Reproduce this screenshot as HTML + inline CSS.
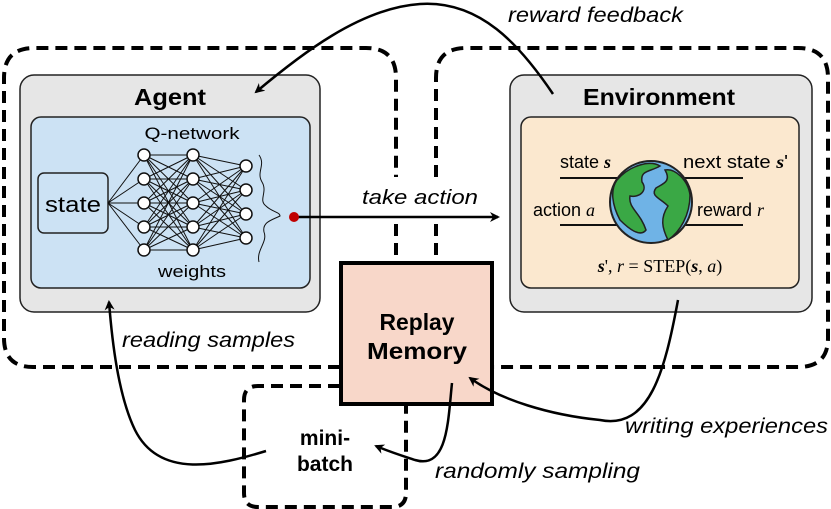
<!DOCTYPE html>
<html><head><meta charset="utf-8"><style>
html,body{margin:0;padding:0;background:#fff;}
svg{display:block;font-family:"Liberation Sans","DejaVu Sans",sans-serif;}
</style></head><body>
<svg width="831" height="509" viewBox="0 0 831 509" xmlns="http://www.w3.org/2000/svg">
<defs>
<marker id="ah" markerWidth="10" markerHeight="10" refX="8" refY="5" orient="auto" markerUnits="userSpaceOnUse">
<path d="M0,0 L10,5 L0,10 L3,5 Z" fill="#000"/></marker>
</defs>
<!-- dashed groups -->
<g fill="none" stroke="#000" stroke-width="4" stroke-dasharray="12,7">
<path d="M340,367 L33,367 Q4,367 4,338 L4,78 Q4,48 34,48 L366,48 Q396,48 396,78 L396,177"/>
<path d="M396,224 L396,262"/>
<path d="M436,177 L436,78 Q436,48 466,48 L798,48 Q828,48 828,78 L828,338 Q828,367 798,367 L493,367"/>
<path d="M436,224 L436,262"/>
<path d="M340,386 L258,386 Q244,386 244,400 L244,493 Q244,507 258,507 L392,507 Q406,507 406,493 L406,405"/>
</g>
<!-- agent -->
<rect x="20" y="75" width="300" height="237" rx="14" fill="#e6e6e6" stroke="#222" stroke-width="1.5"/>
<text x="170" y="105" font-size="23" font-weight="bold" text-anchor="middle" textLength="72" lengthAdjust="spacingAndGlyphs">Agent</text>
<rect x="31" y="117" width="279" height="171" rx="10" fill="#cce2f4" stroke="#222" stroke-width="1.5"/>
<text x="192" y="139" font-size="17" text-anchor="middle" textLength="95" lengthAdjust="spacingAndGlyphs">Q-network</text>
<text x="192" y="277" font-size="17" text-anchor="middle" textLength="68" lengthAdjust="spacingAndGlyphs">weights</text>
<rect x="38" y="173" width="70" height="60" rx="6" fill="#cce2f4" stroke="#222" stroke-width="1.5"/>
<text x="73" y="212" font-size="22" text-anchor="middle" textLength="56" lengthAdjust="spacingAndGlyphs">state</text>
<g stroke="#111" stroke-width="1">
<path d="M108,203 L144,155 M108,203 L144,179 M108,203 L144,203 M108,203 L144,227 M108,203 L144,250"/>
<path d="M144,155L193,155M144,155L193,179M144,155L193,203M144,155L193,227M144,155L193,250
M144,179L193,155M144,179L193,179M144,179L193,203M144,179L193,227M144,179L193,250
M144,203L193,155M144,203L193,179M144,203L193,203M144,203L193,227M144,203L193,250
M144,227L193,155M144,227L193,179M144,227L193,203M144,227L193,227M144,227L193,250
M144,250L193,155M144,250L193,179M144,250L193,203M144,250L193,227M144,250L193,250"/>
<path d="M193,155L246,166M193,155L246,190M193,155L246,214M193,155L246,238
M193,179L246,166M193,179L246,190M193,179L246,214M193,179L246,238
M193,203L246,166M193,203L246,190M193,203L246,214M193,203L246,238
M193,227L246,166M193,227L246,190M193,227L246,214M193,227L246,238
M193,250L246,166M193,250L246,190M193,250L246,214M193,250L246,238"/>
</g>
<g fill="#fff" stroke="#111" stroke-width="1.5">
<circle cx="144" cy="155" r="6"/><circle cx="144" cy="179" r="6"/><circle cx="144" cy="203" r="6"/><circle cx="144" cy="227" r="6"/><circle cx="144" cy="250" r="6"/>
<circle cx="193" cy="155" r="6"/><circle cx="193" cy="179" r="6"/><circle cx="193" cy="203" r="6"/><circle cx="193" cy="227" r="6"/><circle cx="193" cy="250" r="6"/>
<circle cx="246" cy="166" r="6"/><circle cx="246" cy="190" r="6"/><circle cx="246" cy="214" r="6"/><circle cx="246" cy="238" r="6"/>
</g>
<path d="M259,155 C266,165 256,172 262,182 C268,192 258,200 266,206 C272,212 280,212 280,216 C272,220 262,222 264,232 C268,242 256,250 259,262" fill="none" stroke="#111" stroke-width="1"/>
<!-- take action -->
<line x1="294" y1="217" x2="498" y2="217" stroke="#000" stroke-width="2.5" marker-end="url(#ah)"/>
<circle cx="294" cy="217" r="5" fill="#c00000"/>
<text x="362" y="204" font-size="20" font-style="italic" textLength="116" lengthAdjust="spacingAndGlyphs">take action</text>
<!-- environment -->
<rect x="510" y="75" width="302" height="237" rx="14" fill="#e6e6e6" stroke="#222" stroke-width="1.5"/>
<text x="659" y="105" font-size="23" font-weight="bold" text-anchor="middle" textLength="152" lengthAdjust="spacingAndGlyphs">Environment</text>
<rect x="521" y="117" width="278" height="171" rx="10" fill="#fbe8cf" stroke="#222" stroke-width="1.5"/>
<g stroke="#111" stroke-width="2">
<line x1="560" y1="178" x2="620" y2="178"/><line x1="683" y1="178" x2="743" y2="178"/>
<line x1="560" y1="225" x2="620" y2="225"/><line x1="683" y1="225" x2="743" y2="225"/>
</g>
<circle cx="651" cy="202" r="41" fill="#6fb3e6" stroke="#222" stroke-width="2"/>
<path d="M617,180 C630,165 650,160 660,166 C650,172 640,170 642,182 C648,190 640,198 630,196 C628,208 640,212 646,230 C640,238 628,228 620,220 C612,205 610,190 617,180 Z" fill="#3aa845" stroke="#222" stroke-width="1.5"/>
<path d="M665,170 C675,168 688,180 690,195 C690,215 680,232 668,240 C662,228 660,218 668,206 C660,198 650,196 656,188 C662,184 672,182 665,170 Z" fill="#3aa845" stroke="#222" stroke-width="1.5"/>
<text x="560" y="168" font-size="18">state <tspan font-family="Liberation Serif,serif" font-style="italic" font-weight="bold">s</tspan></text>
<text x="683" y="168" font-size="18" textLength="105" lengthAdjust="spacingAndGlyphs">next state <tspan font-family="Liberation Serif,serif" font-style="italic" font-weight="bold">s</tspan>'</text>
<text x="533" y="216" font-size="18">action <tspan font-family="Liberation Serif,serif" font-style="italic">a</tspan></text>
<text x="697" y="216" font-size="18">reward <tspan font-family="Liberation Serif,serif" font-style="italic">r</tspan></text>
<text x="660" y="272" font-size="18" text-anchor="middle" font-family="Liberation Serif,serif"><tspan font-style="italic" font-weight="bold">s</tspan>', <tspan font-style="italic">r</tspan> = STEP(<tspan font-style="italic" font-weight="bold">s</tspan>, <tspan font-style="italic">a</tspan>)</text>
<!-- replay memory -->
<rect x="341" y="263" width="151" height="141" fill="#f8d7c9" stroke="#000" stroke-width="4"/>
<text x="417" y="330" font-size="23" font-weight="bold" text-anchor="middle" textLength="75" lengthAdjust="spacingAndGlyphs">Replay</text>
<text x="417" y="359" font-size="23" font-weight="bold" text-anchor="middle" textLength="100" lengthAdjust="spacingAndGlyphs">Memory</text>
<text x="325" y="445" font-size="21" font-weight="bold" text-anchor="middle">mini-</text>
<text x="325" y="471" font-size="21" font-weight="bold" text-anchor="middle">batch</text>
<!-- curves -->
<g fill="none" stroke="#000" stroke-width="2.5" marker-end="url(#ah)">
<path d="M553,94 C520,45 480,0 420,4 C360,8 300,55 256,92"/>
<path d="M266,451 C220,465 160,480 135,430 C118,395 112,340 109,302"/>
<path d="M678,300 C665,370 650,430 600,420 C550,415 500,400 470,378"/>
<path d="M452,383 C448,420 448,470 415,460 C400,455 390,452 376,446"/>
</g>
<g font-size="21" font-style="italic">
<text x="508" y="22" textLength="175" lengthAdjust="spacingAndGlyphs">reward feedback</text>
<text x="122" y="347" textLength="173" lengthAdjust="spacingAndGlyphs">reading samples</text>
<text x="625" y="433" textLength="203" lengthAdjust="spacingAndGlyphs">writing experiences</text>
<text x="435" y="478" textLength="205" lengthAdjust="spacingAndGlyphs">randomly sampling</text>
</g>
</svg>
</body></html>
